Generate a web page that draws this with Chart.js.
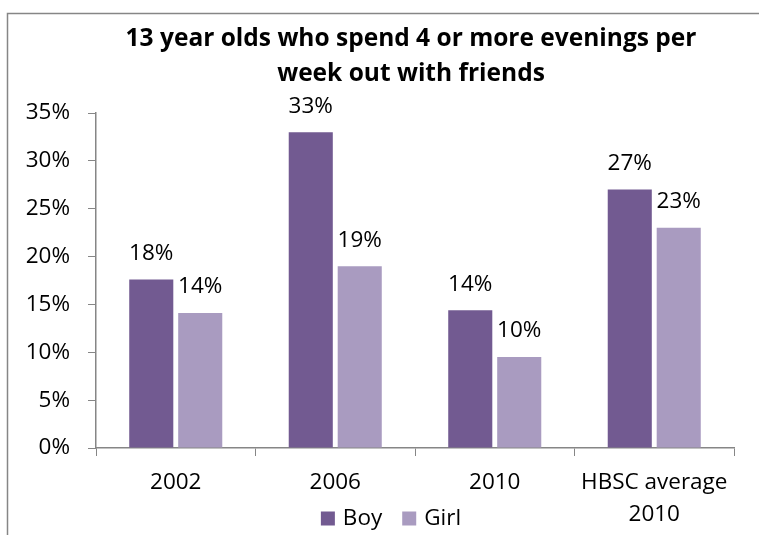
<!DOCTYPE html>
<html>
<head>
<meta charset="utf-8">
<script src="https://cdn.jsdelivr.net/npm/chart.js@4/dist/chart.umd.min.js"></script>
<style>
  html, body { margin: 0; padding: 0; background: #ffffff; }
  #wrap { width: 759px; height: 535px; }
</style>
</head>
<body>
<div id="wrap"><canvas id="c" width="759" height="535"></canvas></div>
<script>
// Chart content
const titleLines = ['13 year olds who spend 4 or more evenings per', 'week out with friends'];
const categories = ['2002', '2006', '2010', ['HBSC average', '2010']];
const seriesNames = ['Boy', 'Girl'];
const boyValues = [17.6, 33.0, 14.4, 27.0];
const girlValues = [14.1, 19.0, 9.5, 23.0];
const yTicks = [0, 5, 10, 15, 20, 25, 30, 35];

const FONT = '"Open Sans", Lato, sans-serif';
const TEXT_SIZE = 22.5;
const AXIS_GREY = '#868686';
const BOY_COLOR = '#725A91';
const GIRL_COLOR = '#A99BC0';

// Outer frame, centred two-line title and legend
const decorations = {
  id: 'decorations',
  beforeDraw(chart) {
    const ctx = chart.ctx;
    ctx.save();
    ctx.strokeStyle = AXIS_GREY;
    ctx.lineWidth = 1.5;
    ctx.beginPath();
    ctx.moveTo(7.5, chart.height);
    ctx.lineTo(7.5, 13.5);
    ctx.lineTo(chart.width, 13.5);
    ctx.stroke();
    ctx.restore();
  },
  afterDraw(chart) {
    const ctx = chart.ctx;
    ctx.save();
    ctx.fillStyle = '#000000';
    ctx.font = 'bold 24.5px ' + FONT;
    ctx.textAlign = 'center';
    ctx.textBaseline = 'alphabetic';
    titleLines.forEach((t, i) => ctx.fillText(t, 411, 46 + i * 35));

    // legend
    ctx.font = TEXT_SIZE + 'px ' + FONT;
    ctx.textBaseline = 'middle';
    ctx.textAlign = 'left';
    const box = 14, gap = 8, spacing = 20;
    const items = chart.data.datasets.map(d => ({ label: d.label, color: d.backgroundColor, w: box + gap + ctx.measureText(d.label).width }));
    const total = items.reduce((s, it) => s + it.w, 0) + spacing * (items.length - 1);
    let x = 391 - total / 2;
    const cy = 518.5;
    items.forEach(it => {
      ctx.fillStyle = it.color;
      ctx.fillRect(x, cy - box / 2, box, box);
      ctx.fillStyle = '#000000';
      ctx.fillText(it.label, x + box + gap, cy);
      x += it.w + spacing;
    });
    ctx.restore();
  }
};

// Value labels above each bar
const valueLabels = {
  id: 'valueLabels',
  afterDatasetsDraw(chart) {
    const ctx = chart.ctx;
    ctx.save();
    ctx.font = TEXT_SIZE + 'px ' + FONT;
    ctx.fillStyle = '#000000';
    ctx.textAlign = 'center';
    ctx.textBaseline = 'middle';
    chart.data.datasets.forEach((ds, di) => {
      chart.getDatasetMeta(di).data.forEach((bar, i) => {
        ctx.fillText(Math.round(ds.data[i]) + '%', bar.x, bar.y - 26);
      });
    });
    ctx.restore();
  }
};

new Chart(document.getElementById('c'), {
  type: 'bar',
  data: {
    labels: categories,
    datasets: [
      { label: seriesNames[0], data: boyValues, backgroundColor: BOY_COLOR },
      { label: seriesNames[1], data: girlValues, backgroundColor: GIRL_COLOR }
    ]
  },
  options: {
    responsive: false,
    animation: false,
    devicePixelRatio: 1,
    layout: { padding: { top: 113, right: 25, bottom: 0, left: 0 } },
    categoryPercentage: 0.614,
    barPercentage: 0.9,
    plugins: {
      legend: { display: false },
      title: { display: false },
      tooltip: { enabled: false }
    },
    scales: {
      x: {
        offset: true,
        grid: { display: true, drawOnChartArea: false, drawTicks: true, tickLength: 8, color: AXIS_GREY, offset: true },
        border: { display: true, color: AXIS_GREY, width: 1.5 },
        ticks: { color: '#000000', font: { family: FONT, size: TEXT_SIZE, lineHeight: 32 / TEXT_SIZE }, padding: 11, maxRotation: 0, autoSkip: false },
        afterFit(scale) { scale.height = 87; }
      },
      y: {
        min: yTicks[0],
        max: yTicks[yTicks.length - 1],
        afterBuildTicks(scale) { scale.ticks = yTicks.map(v => ({ value: v })); },
        grid: { display: true, drawOnChartArea: false, drawTicks: true, tickLength: 8, color: AXIS_GREY },
        border: { display: true, color: AXIS_GREY, width: 1.5 },
        ticks: { color: '#000000', font: { family: FONT, size: TEXT_SIZE }, padding: 18, callback: v => v + '%' },
        afterFit(scale) { scale.width = 96; }
      }
    }
  },
  plugins: [decorations, valueLabels]
});
</script>
</body>
</html>
